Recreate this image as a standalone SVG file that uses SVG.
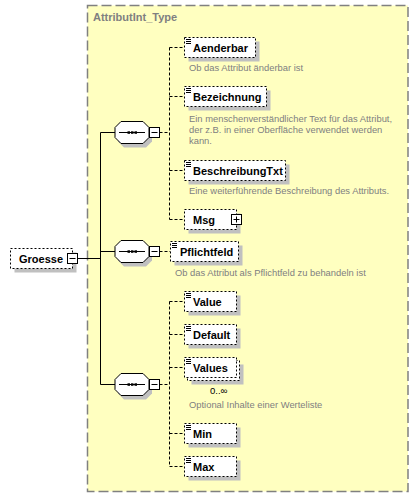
<svg xmlns="http://www.w3.org/2000/svg" width="419" height="498" viewBox="0 0 419 498">
<style>
.bg{fill:#FFFFC0;stroke:#808080;stroke-width:1.5;stroke-dasharray:10,4}
.title{font-family:"Liberation Sans",Arial,sans-serif;font-size:11px;font-weight:bold;fill:#808080}
.box{fill:#FFFFFF;stroke:#000;stroke-width:1;stroke-dasharray:2,2}
.sh{fill:#C0C0C0}
.name{font-family:"Liberation Sans",Arial,sans-serif;font-size:11px;font-weight:bold;fill:#000}
.desc{font-family:"Liberation Sans",Arial,sans-serif;font-size:9.4px;fill:#808080}
.occ{font-family:"Liberation Sans",Arial,sans-serif;font-size:9.5px;fill:#000}
.icon{stroke:#000;stroke-width:1}
.pm{fill:#FFFFFF;stroke:#000;stroke-width:1}
.solid{stroke:#000;stroke-width:1;fill:none}
.dash{stroke:#000;stroke-width:1;fill:none;stroke-dasharray:3,2}
.oct{fill:#FFFFFF;stroke:#000;stroke-width:1}
</style>
<defs>
<g id="ic"><path class="icon" d="M0,0.5H5M0,2.5H5M0,4.5H5"/></g>
<g id="seq">
<polygon class="sh" points="124,-7 146,-7 152,-1 152,9 146,15 124,15 118,9 118,-1"/>
<polygon class="oct" points="121,-11 143,-11 149,-5 149,5 143,11 121,11 115,5 115,-5"/>
<path class="solid" d="M119,0H145"/>
<rect x="127.5" y="-1.2" width="2.5" height="2.5" fill="#000"/>
<rect x="131" y="-1.2" width="2.5" height="2.5" fill="#000"/>
<rect x="134.5" y="-1.2" width="2.5" height="2.5" fill="#000"/>
<rect class="pm" x="149.5" y="-5" width="10" height="10"/>
<path class="solid" d="M151.5,0H157.5"/>
</g>
</defs>

<rect class="bg" x="87.5" y="5.5" width="320.5" height="486"/>
<text class="title" x="93" y="21">AttributInt_Type</text>

<g id="connectors">
<path class="solid" d="M100.5,132.5V384.5M77.5,258.5H100.5M100.5,132.5H115M100.5,251.5H115M100.5,384.5H115"/>
<path class="dash" d="M159.5,132.5H169.5M169.5,47.5V219.5M169.5,47.5H184.5M169.5,96.5H184.5M169.5,170.5H184.5M169.5,219.5H184.5"/>
<path class="dash" d="M159.5,251.5H170.5"/>
<path class="dash" d="M159.5,384.5H169.5M169.5,301.5V466.5M169.5,301.5H184.5M169.5,334.5H184.5M169.5,367.5H184.5M169.5,433.5H184.5M169.5,466.5H184.5"/>
</g>

<g id="seq1"><use href="#seq" y="132.5"/></g>
<g id="seq2"><use href="#seq" y="251.5"/></g>
<g id="seq3"><use href="#seq" y="384.5"/></g>

<g id="Groesse">
<rect class="sh" x="14.5" y="252.5" width="62" height="20"/>
<rect class="box" x="10.5" y="248.5" width="62" height="20"/>
<text class="name" x="19" y="262.5">Groesse</text>
<rect class="pm" x="67.5" y="253.5" width="10" height="10"/>
<path class="solid" d="M69.5,258.5H75.5"/>
</g>

<g id="Aenderbar">
<rect class="sh" x="188.5" y="41.5" width="71" height="20"/>
<rect class="box" x="184.5" y="37.5" width="71" height="20"/>
<use href="#ic" x="186" y="39"/>
<text class="name" x="193" y="51.5">Aenderbar</text>
<text class="desc" x="189" y="71">Ob das Attribut änderbar ist</text>
</g>

<g id="Bezeichnung">
<rect class="sh" x="188.5" y="90.5" width="82" height="20"/>
<rect class="box" x="184.5" y="86.5" width="82" height="20"/>
<use href="#ic" x="186" y="88"/>
<text class="name" x="193" y="100.5">Bezeichnung</text>
<text class="desc" x="189" y="122">Ein menschenverständlicher Text für das Attribut,</text>
<text class="desc" x="189" y="133">der z.B. in einer Oberfläche verwendet werden</text>
<text class="desc" x="189" y="144">kann.</text>
</g>

<g id="BeschreibungTxt">
<rect class="sh" x="188.5" y="164.5" width="101" height="20"/>
<rect class="box" x="184.5" y="160.5" width="101" height="20"/>
<use href="#ic" x="186" y="162"/>
<text class="name" x="193" y="174.5">BeschreibungTxt</text>
<text class="desc" x="189" y="194">Eine weiterführende Beschreibung des Attributs.</text>
</g>

<g id="Msg">
<rect class="sh" x="188.5" y="213.5" width="52" height="20"/>
<rect class="box" x="184.5" y="209.5" width="52" height="20"/>
<text class="name" x="193" y="223.5">Msg</text>
<rect class="pm" x="231.5" y="214.5" width="10" height="10"/>
<path class="solid" d="M233.5,219.5H239.5M236.5,216.5V222.5"/>
</g>

<g id="Pflichtfeld">
<rect class="sh" x="174.5" y="245.5" width="68" height="20"/>
<rect class="box" x="170.5" y="241.5" width="68" height="20"/>
<use href="#ic" x="172" y="243"/>
<text class="name" x="180" y="255.5">Pflichtfeld</text>
<text class="desc" x="175" y="276">Ob das Attribut als Pflichtfeld zu behandeln ist</text>
</g>

<g id="Value">
<rect class="sh" x="188.5" y="295.5" width="52" height="20"/>
<rect class="box" x="184.5" y="291.5" width="52" height="20"/>
<use href="#ic" x="186" y="293"/>
<text class="name" x="193" y="305.5">Value</text>
</g>

<g id="Default">
<rect class="sh" x="188.5" y="328.5" width="52" height="20"/>
<rect class="box" x="184.5" y="324.5" width="52" height="20"/>
<use href="#ic" x="186" y="326"/>
<text class="name" x="193" y="338.5">Default</text>
</g>

<g id="Values">
<rect class="sh" x="191.5" y="364.5" width="52" height="20"/>
<rect class="box" x="187.5" y="360.5" width="52" height="20"/>
<rect class="box" x="184.5" y="357.5" width="52" height="20"/>
<use href="#ic" x="186" y="359"/>
<text class="name" x="193" y="371.5">Values</text>
<text class="occ" x="210" y="394">0..∞</text>
<text class="desc" x="189" y="408">Optional Inhalte einer Werteliste</text>
</g>

<g id="Min">
<rect class="sh" x="188.5" y="427.5" width="52" height="20"/>
<rect class="box" x="184.5" y="423.5" width="52" height="20"/>
<use href="#ic" x="186" y="425"/>
<text class="name" x="193" y="437.5">Min</text>
</g>

<g id="Max">
<rect class="sh" x="188.5" y="460.5" width="52" height="20"/>
<rect class="box" x="184.5" y="456.5" width="52" height="20"/>
<use href="#ic" x="186" y="458"/>
<text class="name" x="193" y="470.5">Max</text>
</g>
</svg>
